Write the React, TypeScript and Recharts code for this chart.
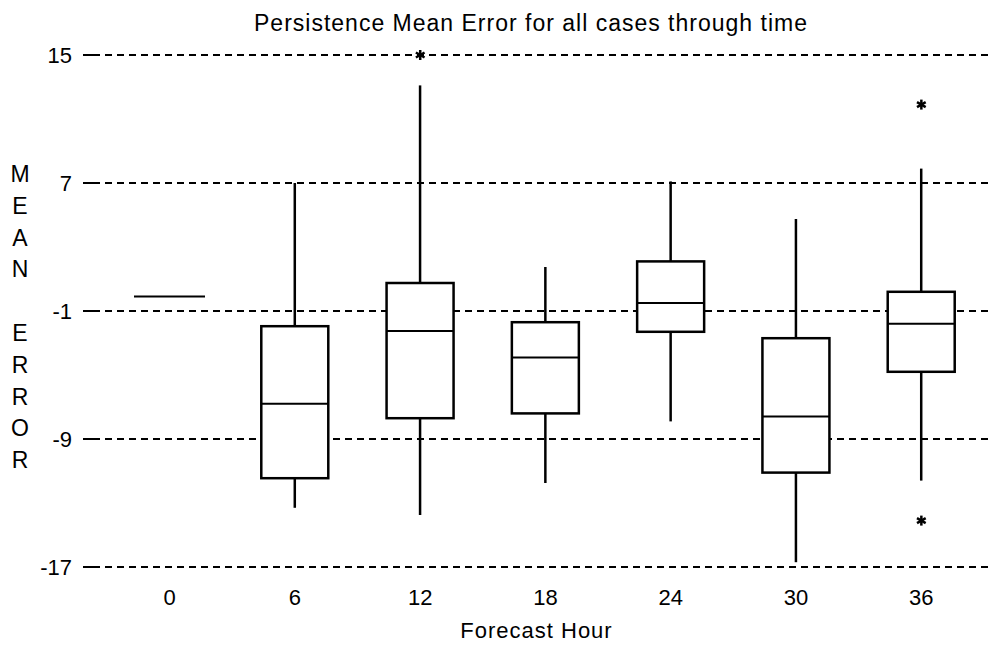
import React from "react";
import { ComposedChart, Bar, Scatter, XAxis, YAxis, CartesianGrid } from "recharts";

// forecast hours and box-plot statistics
const hours = ["0", "6", "12", "18", "24", "30", "36"];
const whiskerLow = [-0.1, -13.3, -13.75, -11.75, -7.9, -16.7, -11.6];
const quart1 = [-0.1, -11.45, -7.7, -7.4, -2.3, -11.1, -4.8];
const medians = [-0.1, -6.8, -2.25, -3.9, -0.5, -7.6, -1.8];
const quart3 = [-0.1, -1.95, 0.75, -1.7, 2.1, -2.7, 0.2];
const whiskerHigh = [-0.1, 7.0, 13.1, 1.75, 7.1, 4.75, 7.9];
const outliersHigh = [null, null, 15, null, null, null, 11.9];
const outliersLow = [null, null, null, null, null, null, -14.1];
const yTicks = [15, 7, -1, -9, -17];

const data = hours.map((hour, i) => ({
  hour,
  low: whiskerLow[i],
  q1: quart1[i],
  median: medians[i],
  q3: quart3[i],
  high: whiskerHigh[i],
  outHigh: outliersHigh[i],
  outLow: outliersLow[i],
}));

const FONT = '"Liberation Sans", Arial, sans-serif';
const yLetters = ["M", "E", "A", "N", " ", "E", "R", "R", "O", "R"];

const BoxShape = (props: any) => {
  const { x, y, width, height, payload } = props;
  const top = Math.min(y, y + height);
  const h = Math.abs(height);
  const span = payload.high - payload.low;
  if (!span || !h) {
    return <line x1={x - 2} x2={x + width + 2} y1={y} y2={y} stroke="#000" strokeWidth={2} />;
  }
  const py = (v: number) => top + ((payload.high - v) * h) / span;
  const cx = x + width / 2;
  return (
    <g>
      <line x1={cx} x2={cx} y1={py(payload.high)} y2={py(payload.q3)} stroke="#000" strokeWidth={2.5} />
      <line x1={cx} x2={cx} y1={py(payload.q1)} y2={py(payload.low)} stroke="#000" strokeWidth={2.5} />
      <rect
        x={x}
        y={py(payload.q3)}
        width={width}
        height={py(payload.q1) - py(payload.q3)}
        fill="#fff"
        stroke="#000"
        strokeWidth={2.5}
      />
      <line x1={x} x2={x + width} y1={py(payload.median)} y2={py(payload.median)} stroke="#000" strokeWidth={2} />
    </g>
  );
};

const makeStar = (key: "outHigh" | "outLow") => (props: any) => {
  const { cx, cy, payload } = props;
  if (!payload || payload[key] == null || cx == null || cy == null || isNaN(cy)) return <g />;
  const r = 5;
  const d = r * 0.87;
  return (
    <g stroke="#000" strokeWidth={2.5}>
      <line x1={cx} x2={cx} y1={cy - r} y2={cy + r} />
      <line x1={cx - d} x2={cx + d} y1={cy - r / 2} y2={cy + r / 2} />
      <line x1={cx - d} x2={cx + d} y1={cy + r / 2} y2={cy - r / 2} />
    </g>
  );
};

export default function App() {
  return (
    <div style={{ position: "absolute", left: 0, top: 0, width: 990, height: 646, background: "#fff" }}>
      <div
        style={{
          position: "absolute",
          left: 531,
          top: 12,
          transform: "translateX(-50%)",
          whiteSpace: "nowrap",
          fontFamily: FONT,
          fontSize: 23,
          lineHeight: "23px",
          letterSpacing: 1,
          color: "#000",
        }}
      >
        Persistence Mean Error for all cases through time
      </div>
      <div
        style={{
          position: "absolute",
          left: 8,
          top: 159,
          width: 24,
          fontFamily: FONT,
          fontSize: 23,
          lineHeight: "31.8px",
          textAlign: "center",
          color: "#000",
        }}
      >
        {yLetters.map((l, i) => (
          <div key={i} style={{ height: 31.8 }}>{l === " " ? "\u00a0" : l}</div>
        ))}
      </div>
      <ComposedChart
        width={990}
        height={646}
        data={data}
        margin={{ top: 55, right: 0, bottom: 0, left: 0 }}
        style={{ position: "absolute", left: 0, top: 0 }}
      >
        <CartesianGrid
          vertical={false}
          stroke="#000"
          strokeWidth={2}
          strokeDasharray="7 5"
        />
        <XAxis
          dataKey="hour"
          type="category"
          height={79}
          axisLine={false}
          tickLine={false}
          tickSize={0}
          tickMargin={22}
          padding={{ left: 14, right: 6 }}
          tick={{ fill: "#000", fontSize: 22, fontFamily: FONT }}
          label={{
            value: "Forecast Hour",
            position: "insideBottom",
            offset: 8,
            dx: -5,
            fill: "#000",
            fontSize: 22,
            fontFamily: FONT,
            letterSpacing: 1,
          }}
        />
        <YAxis
          type="number"
          domain={[-17, 15]}
          ticks={yTicks}
          interval={0}
          width={93}
          axisLine={false}
          tickSize={10}
          tickMargin={11}
          tickLine={{ stroke: "#000", strokeWidth: 2 }}
          tick={{ fill: "#000", fontSize: 22, fontFamily: FONT }}
        />
        <Bar
          dataKey={(d: any) => [d.low, d.high]}
          barSize={67}
          shape={BoxShape}
          isAnimationActive={false}
        />
        <Scatter dataKey="outHigh" shape={makeStar("outHigh")} isAnimationActive={false} />
        <Scatter dataKey="outLow" shape={makeStar("outLow")} isAnimationActive={false} />
      </ComposedChart>
    </div>
  );
}
